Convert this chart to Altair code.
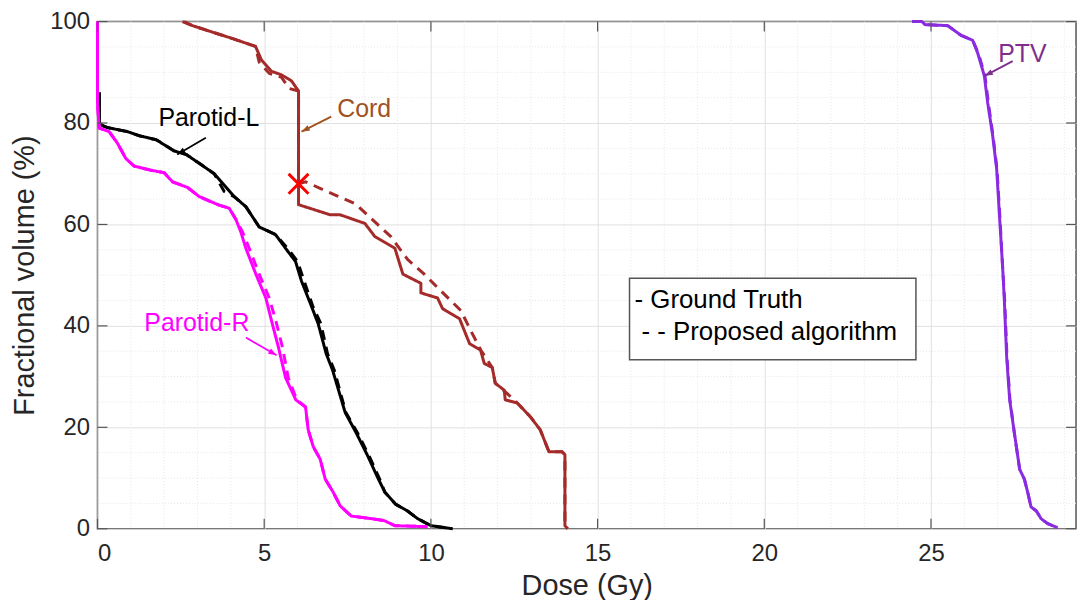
import math
import altair as alt
import pandas as pd

# ---------------- data ----------------
ptv_gt_dose = [24.43, 24.73, 24.82, 25.5, 25.9, 26.25, 26.4, 26.6, 26.7, 26.85, 26.97, 27.06, 27.15, 27.2, 27.27, 27.36, 27.5, 27.66, 27.8, 27.9, 28.0, 28.16, 28.3, 28.5, 28.8]
ptv_gt_vol = [100, 100, 99.4, 99.2, 97.3, 96.3, 93.8, 89.3, 84, 77.5, 70.9, 61.1, 51.4, 45, 33.8, 25.4, 18.9, 11.7, 9.8, 7.2, 4.3, 3.5, 2, 1, 0.2]
ptv_pr_dose = [24.43, 24.73, 24.82, 25.5, 25.9, 26.25, 26.42, 26.62, 26.72, 26.86, 26.98, 27.07, 27.15, 27.21, 27.28, 27.37, 27.5, 27.66, 27.8, 27.9, 28.0, 28.16, 28.3, 28.5, 28.8]
ptv_pr_vol = ptv_gt_vol

cord_gt_dose = [2.6, 2.85, 3.55, 4.03, 4.74, 4.92, 5.22, 5.52, 5.82, 6.03, 6.03, 6.98, 7.28, 8.02, 8.32, 8.92, 9.16, 9.7, 9.7, 10.2, 10.35, 10.86, 11.16, 11.49, 11.6, 11.84, 11.93, 12.2, 12.23, 12.59, 12.98, 13.28, 13.54, 13.93, 14.02, 14.02, 14.1]
cord_gt_vol = [100, 99.2, 97.7, 96.7, 95.1, 92.4, 90.2, 89.5, 88.3, 86.3, 63.9, 61.9, 61.9, 60.2, 57.6, 55.3, 50.2, 48.4, 46.5, 45.5, 43.4, 41.4, 36.5, 35.2, 32.6, 31.8, 28.7, 27.3, 25.4, 24.8, 22.1, 19.5, 15.2, 15.2, 14.6, 0.6, 0]
cord_pr_dose = [2.55, 2.85, 3.55, 4.03, 4.74, 4.85, 5.15, 5.52, 5.75, 6.03, 6.03, 6.24, 7.13, 7.73, 8.32, 8.8, 9.3, 9.8, 10.3, 10.9, 11.2, 11.5, 11.84, 11.93, 12.4, 12.59, 12.98, 13.28, 13.54, 13.93, 14.02, 14.02, 14.1]
cord_pr_vol = [100, 99.2, 97.7, 96.7, 95.1, 92.0, 89.8, 89.0, 86.8, 86.3, 68.0, 68.4, 65.8, 64.1, 60.5, 57.6, 53.1, 50.2, 46.9, 43.0, 39.0, 35.2, 31.8, 28.7, 26.0, 24.8, 22.1, 19.5, 15.2, 15.2, 14.6, 0.6, 0]

pl_gt_dose = [0.06, 0.06, 0.15, 0.3, 0.9, 1.25, 1.76, 2.3, 2.66, 3.04, 3.5, 3.9, 4.1, 4.45, 4.85, 5.34, 5.64, 5.94, 6.12, 6.41, 6.62, 6.86, 7.05, 7.43, 7.76, 8.11, 8.41, 8.62, 8.95, 9.3, 9.6, 10.0, 10.65]
pl_gt_vol = [86, 80, 79.5, 79.1, 78.3, 77.5, 76.7, 74.5, 73.8, 72.1, 70, 67, 65.5, 63.5, 59.5, 58, 55.3, 52.7, 48.8, 44, 40.4, 34.5, 31.3, 22.9, 18.9, 14.3, 10, 7.2, 4.8, 3.5, 2, 0.6, 0]
pl_pr_dose = [0.06, 0.06, 0.15, 0.3, 0.9, 1.25, 1.76, 2.3, 2.66, 3.04, 3.5, 3.8, 4.1, 4.45, 4.85, 5.34, 5.7, 6.0, 6.2, 6.45, 6.7, 6.9, 7.1, 7.45, 7.8, 8.15, 8.45, 8.62, 8.95, 9.3, 9.6, 10.0, 10.65]
pl_pr_vol = [86, 80, 79.5, 79.1, 78.3, 77.5, 76.7, 74.5, 73.8, 72.1, 70, 66.5, 65.5, 63.5, 59.5, 58, 55.3, 52.7, 48.8, 44, 40.4, 34.5, 31.3, 22.9, 18.9, 14.3, 10, 7.2, 4.8, 3.5, 2, 0.6, 0]

pr_gt_dose = [0, 0, 0.05, 0.35, 0.6, 0.85, 1.1, 1.6, 2.0, 2.25, 2.7, 3.05, 3.4, 3.65, 3.95, 4.15, 4.3, 4.45, 4.75, 5.05, 5.22, 5.43, 5.64, 5.95, 6.24, 6.32, 6.47, 6.68, 6.83, 7.07, 7.28, 7.61, 8.2, 8.6, 8.92, 9.9]
pr_gt_vol = [100, 84, 79, 78.3, 76, 73, 71.5, 70.7, 70.2, 68.4, 67.3, 65.5, 64.5, 63.8, 63.2, 61, 58.5, 55.3, 50.2, 45.5, 41, 35.7, 29.8, 25.4, 24, 19.5, 16.2, 13.7, 9.8, 7.2, 4.5, 2.5, 2, 1.6, 0.6, 0.4]
pr_pr_dose = [0, 0, 0.05, 0.35, 0.6, 0.85, 1.1, 1.6, 2.0, 2.25, 2.7, 3.05, 3.4, 3.65, 3.95, 4.15, 4.35, 4.55, 4.85, 5.15, 5.35, 5.55, 5.72, 5.98, 6.24, 6.32, 6.47, 6.68, 6.83, 7.07, 7.28, 7.61, 8.2, 8.6, 8.92, 9.9]
pr_pr_vol = pr_gt_vol

organs = ["PTV", "Cord", "Parotid-L", "Parotid-R"]
organ_colors = ["#8A2BE2", "#A52A2A", "#000000", "#FF00FF"]
kinds = ["Ground Truth", "Proposed algorithm"]

x_major = [0, 5, 10, 15, 20, 25]
x_minor = [1, 2, 3, 4, 6, 7, 8, 9, 11, 12, 13, 14, 16, 17, 18, 19, 21, 22, 23, 24, 26, 27, 28, 29]
y_major = [0, 20, 40, 60, 80, 100]
y_minor = [5, 10, 15, 25, 30, 35, 45, 50, 55, 65, 70, 75, 85, 90, 95]

# annotations: label, text position, arrow tail, arrow head, colour
ann_label = ["Parotid-L", "Cord", "PTV", "Parotid-R"]
ann_tx = [3.34, 8.0, 27.74, 2.98]
ann_ty = [81.0, 82.8, 93.6, 40.6]
ann_x1 = [3.25, 7.01, 27.45, 4.45]
ann_y1 = [77.1, 81.25, 92.2, 37.7]
ann_x2 = [2.39, 6.12, 26.61, 5.37]
ann_y2 = [73.8, 78.3, 89.3, 34.2]
ann_color = ["#000000", "#A0521F", "#7E2F8E", "#FF00FF"]

marker_dose = [6.03]
marker_vol = [68.0]

legend_lines = ["- Ground Truth", "- - Proposed algorithm"]

# ---------------- layout ----------------
W, H = 984, 510
XMAX = 29.35
FONT = "Liberation Sans"
AX = "#262626"

rows = []
series = [
    ("PTV", kinds[1], ptv_pr_dose, ptv_pr_vol), ("PTV", kinds[0], ptv_gt_dose, ptv_gt_vol),
    ("Cord", kinds[1], cord_pr_dose, cord_pr_vol), ("Cord", kinds[0], cord_gt_dose, cord_gt_vol),
    ("Parotid-L", kinds[1], pl_pr_dose, pl_pr_vol), ("Parotid-L", kinds[0], pl_gt_dose, pl_gt_vol),
    ("Parotid-R", kinds[1], pr_pr_dose, pr_pr_vol), ("Parotid-R", kinds[0], pr_gt_dose, pr_gt_vol),
]
for organ, kind, d, v in series:
    for i, (a, b) in enumerate(zip(d, v)):
        rows.append({"organ": organ, "kind": kind, "series": organ + kind, "dose": a, "vol": b, "idx": i})
curves = pd.DataFrame(rows)

xs = alt.Scale(domain=[0, XMAX], nice=False, zero=False)
ys = alt.Scale(domain=[0, 100], nice=False, zero=False)

px_per_x = W / XMAX
px_per_y = H / 100.0
angles = []
for i in range(len(ann_label)):
    dx = (ann_x2[i] - ann_x1[i]) * px_per_x
    dy = -(ann_y2[i] - ann_y1[i]) * px_per_y
    angles.append(math.degrees(math.atan2(dx, -dy)) % 360)
ann = pd.DataFrame({"label": ann_label, "tx": ann_tx, "ty": ann_ty, "x1": ann_x1, "y1": ann_y1,
                    "x2": ann_x2, "y2": ann_y2, "color": ann_color, "angle": angles})

xminor_df = pd.DataFrame({"v": x_minor})
yminor_df = pd.DataFrame({"v": y_minor})
xtick_df = pd.DataFrame({"v": x_major})
ytick_df = pd.DataFrame({"v": y_major})

base_axes = alt.Chart(pd.DataFrame({"dose": [0.0], "vol": [0.0]})).mark_point(opacity=0).encode(
    x=alt.X("dose:Q", scale=xs, title="Dose (Gy)",
            axis=alt.Axis(values=x_major, grid=True, ticks=False, tickSize=0, domain=False,
                          labelPadding=13, titlePadding=6)),
    y=alt.Y("vol:Q", scale=ys, title="Fractional volume (%)",
            axis=alt.Axis(values=y_major, grid=True, ticks=False, tickSize=0, domain=False,
                          labelPadding=8, titlePadding=10)),
)

minor_x = alt.Chart(xminor_df).mark_rule(color="#e6e6e6", strokeWidth=1, strokeDash=[1, 2]).encode(
    x=alt.X("v:Q", scale=xs))
minor_y = alt.Chart(yminor_df).mark_rule(color="#e6e6e6", strokeWidth=1, strokeDash=[1, 2]).encode(
    y=alt.Y("v:Q", scale=ys))

lines = alt.Chart(curves).mark_line(strokeWidth=3, strokeCap="butt", strokeJoin="round").encode(
    x=alt.X("dose:Q", scale=xs),
    y=alt.Y("vol:Q", scale=ys),
    color=alt.Color("organ:N", scale=alt.Scale(domain=organs, range=organ_colors), legend=None),
    strokeDash=alt.StrokeDash("kind:N", scale=alt.Scale(domain=kinds, range=[[1, 0], [10, 7]]), legend=None),
    detail="series:N",
    order="idx:Q",
)

tick_col = "#555555"
tb = alt.Chart(xtick_df).mark_rule(color=tick_col, strokeWidth=1.2).encode(
    x=alt.X("v:Q", scale=xs), y=alt.value(H), y2=alt.value(H - 10))
tt = alt.Chart(xtick_df).mark_rule(color=tick_col, strokeWidth=1.2).encode(
    x=alt.X("v:Q", scale=xs), y=alt.value(0), y2=alt.value(10))
tl = alt.Chart(ytick_df).mark_rule(color=tick_col, strokeWidth=1.2).encode(
    y=alt.Y("v:Q", scale=ys), x=alt.value(0), x2=alt.value(10))
tr = alt.Chart(ytick_df).mark_rule(color=tick_col, strokeWidth=1.2).encode(
    y=alt.Y("v:Q", scale=ys), x=alt.value(W), x2=alt.value(W - 10))

one = pd.DataFrame({"a": [0]})
leg_box = alt.Chart(one).mark_rect(fill="white", stroke="#555555", strokeWidth=1.5).encode(
    x=alt.value(535), x2=alt.value(823), y=alt.value(258), y2=alt.value(340))
leg_df = pd.DataFrame({"t": legend_lines, "yy": [280, 312], "xx": [540, 547]})
leg_text = alt.Chart(leg_df).mark_text(align="left", baseline="middle", font=FONT, fontSize=26,
                                       color="#000000").encode(
    text="t:N", x=alt.X("xx:Q", scale=None), y=alt.Y("yy:Q", scale=None))

ann_text = alt.Chart(ann).mark_text(align="center", baseline="middle", font=FONT, fontSize=25).encode(
    x=alt.X("tx:Q", scale=xs), y=alt.Y("ty:Q", scale=ys), text="label:N",
    color=alt.Color("color:N", scale=None))
ann_shaft = alt.Chart(ann).mark_rule(strokeWidth=1.8).encode(
    x=alt.X("x1:Q", scale=xs), y=alt.Y("y1:Q", scale=ys),
    x2="x2:Q", y2="y2:Q", color=alt.Color("color:N", scale=None))
ann_head = alt.Chart(ann).mark_point(shape="M0,0L-0.8,2.2L0.8,2.2Z", filled=True, size=56, opacity=1).encode(
    x=alt.X("x2:Q", scale=xs), y=alt.Y("y2:Q", scale=ys),
    angle=alt.Angle("angle:Q", scale=None),
    color=alt.Color("color:N", scale=None))

marker = alt.Chart(pd.DataFrame({"d": marker_dose, "v": marker_vol})).mark_point(
    shape="M-1,-1L1,1M-1,1L1,-1", size=400, filled=False, stroke="#FF0000", strokeWidth=3, opacity=1).encode(
    x=alt.X("d:Q", scale=xs), y=alt.Y("v:Q", scale=ys))

chart = alt.layer(
    base_axes, minor_x, minor_y, lines, tb, tt, tl, tr, leg_box, leg_text,
    ann_shaft, ann_head, ann_text, marker
).properties(
    width=W, height=H,
    autosize=alt.AutoSizeParams(type="none"),
    padding={"left": 90, "top": 12, "right": 5, "bottom": 70},
    background="white",
).configure_view(
    stroke="#555555", strokeWidth=1.5
).configure_axis(
    labelFont=FONT, titleFont=FONT, labelFontSize=24, titleFontSize=29,
    labelColor=AX, titleColor=AX, titleFontWeight="normal",
    gridColor="#e0e0e0", gridWidth=1, labelOverlap=False,
)

chart.save("out.html", embed_options={"renderer": "svg", "actions": False})
